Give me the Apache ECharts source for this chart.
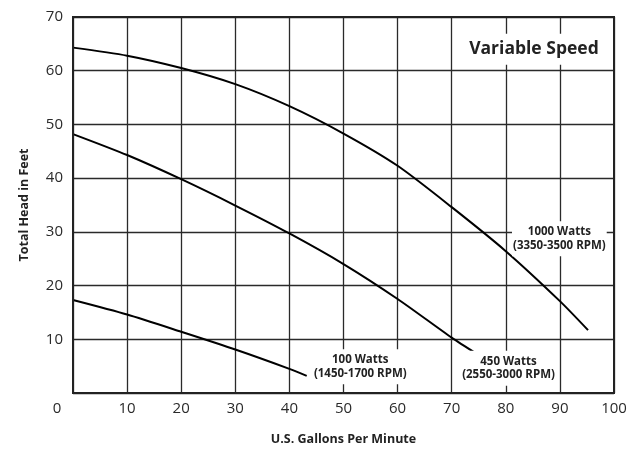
<!DOCTYPE html>
<html>
<head>
<meta charset="utf-8">
<script src="https://cdn.jsdelivr.net/npm/echarts@6/dist/echarts.min.js"></script>
<style>
html,body{margin:0;padding:0;background:#fff;}
#chart{width:643px;height:451px;}
</style>
</head>
<body>
<div id="chart"></div>
<script>
// Flow (U.S. gallons per minute) and head (feet)
var flow1000 = [0, 10, 20, 30, 40, 50, 60, 70, 80, 90, 95.2];
var head1000 = [64.3, 62.8, 60.5, 57.5, 53.4, 48.3, 42.3, 34.6, 26.4, 17.1, 11.7];
var flow450 = [0, 10, 20, 30, 40, 50, 60, 70, 74.6];
var head450 = [48.2, 44.3, 39.8, 34.9, 29.7, 24.0, 17.5, 10.3, 7.3];
var flow100 = [0, 10, 20, 30, 40, 43.2];
var head100 = [17.3, 14.6, 11.4, 8.1, 4.5, 3.2];

var seriesNames = ['1000 Watts', '450 Watts', '100 Watts'];
var seriesRpm = ['(3350-3500 RPM)', '(2550-3000 RPM)', '(1450-1700 RPM)'];
// label anchor points, in data units
var labelFlow = [89.9, 80.5, 53.1];
var labelHead = [28.7, 4.6, 4.9];
var titleText = 'Variable Speed';
var titleAt = [85.2, 64.0];

var xAxisName = 'U.S. Gallons Per Minute';
var yAxisName = 'Total Head in Feet';
var xTicks = {min: 0, max: 100, interval: 10};
var yTicks = {min: 0, max: 70, interval: 10};

function pairs(xs, ys) { return xs.map(function (x, i) { return [x, ys[i]]; }); }

var FONT = 'Open Sans';
var chart = echarts.init(document.getElementById('chart'), null, {renderer: 'canvas'});

var curves = [pairs(flow1000, head1000), pairs(flow450, head450), pairs(flow100, head100)];

var series = curves.map(function (d, i) {
  var mpData = [{
    coord: [labelFlow[i], labelHead[i]],
    value: seriesNames[i] + '\n' + seriesRpm[i]
  }];
  if (i === 0) {
    mpData.push({
      coord: titleAt,
      value: titleText,
      label: {fontSize: 17.5, fontWeight: 'bold', lineHeight: 21, padding: [5, 2, 5, 2], color: '#222'}
    });
  }
  return {
    type: 'line',
    name: seriesNames[i],
    data: d,
    smooth: 0.25,
    showSymbol: false,
    symbol: 'none',
    lineStyle: {color: '#000', width: 2},
    itemStyle: {color: '#000'},
    silent: true,
    z: 3,
    markPoint: {
      symbol: 'circle',
      symbolSize: 0,
      silent: true,
      itemStyle: {color: 'transparent'},
      label: {
        show: true,
        position: 'inside',
        formatter: function (p) { return p.value; },
        color: '#222',
        fontFamily: FONT,
        fontSize: 11.5,
        fontWeight: 'bold',
        lineHeight: 13.5,
        align: 'center',
        backgroundColor: '#fff',
        padding: [4, 1, 4, 1]
      },
      data: mpData
    }
  };
});

chart.setOption({
  animation: false,
  backgroundColor: '#fff',
  grid: {
    left: 73, right: 29, top: 17, bottom: 53,
    show: true, borderColor: '#222', borderWidth: 2, backgroundColor: 'transparent', z: 5
  },
  xAxis: {
    type: 'value',
    min: xTicks.min, max: xTicks.max, interval: xTicks.interval,
    name: xAxisName,
    nameLocation: 'middle',
    nameGap: 40,
    nameTextStyle: {fontFamily: FONT, fontSize: 12.5, fontWeight: 'bold', color: '#222'},
    axisLine: {show: false},
    axisTick: {show: false},
    splitLine: {show: true, lineStyle: {color: '#2a2a2a', width: 1.3}},
    axisLabel: {
      margin: 8,
      fontFamily: FONT, fontSize: 15, color: '#2a2a2a',
      formatter: function (v) { return v === 0 ? '{o|0}' : String(v); },
      rich: {o: {fontFamily: FONT, fontSize: 15, color: '#2a2a2a', padding: [0, 32, 0, 0]}}
    }
  },
  yAxis: {
    type: 'value',
    min: yTicks.min, max: yTicks.max, interval: yTicks.interval,
    name: yAxisName,
    nameLocation: 'middle',
    nameGap: 42,
    nameRotate: 90,
    nameTextStyle: {fontFamily: FONT, fontSize: 12.5, fontWeight: 'bold', color: '#222'},
    axisLine: {show: false},
    axisTick: {show: false},
    splitLine: {show: true, lineStyle: {color: '#2a2a2a', width: 1.3}},
    axisLabel: {
      margin: 10,
      fontFamily: FONT, fontSize: 15, color: '#2a2a2a',
      formatter: function (v) { return v === 0 ? '' : String(v); }
    }
  },
  series: series
});
</script>
</body>
</html>
